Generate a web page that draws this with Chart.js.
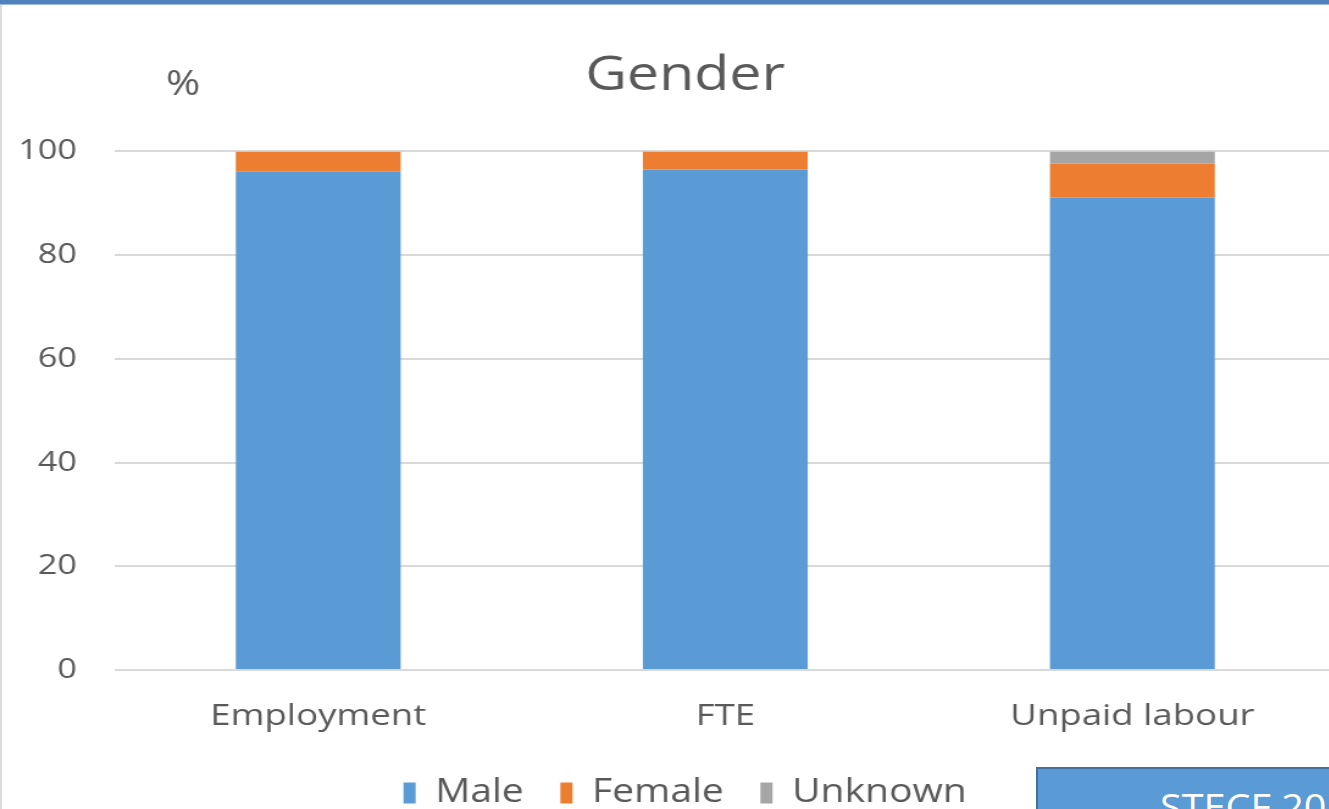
<!DOCTYPE html>
<html>
<head>
<meta charset="utf-8">
<script src="https://cdn.jsdelivr.net/npm/chart.js@4/dist/chart.umd.min.js"></script>
<style>
  html, body { margin: 0; padding: 0; background: #fff; }
  #frame { position: relative; width: 1329px; height: 809px; overflow: hidden; background: #fff; }
  #stretch { position: absolute; left: 0; top: 0; width: 1123px; height: 819px; transform: scaleX(1.22); transform-origin: 0 0; }
  #topbar { position: absolute; left: 0; top: 0; width: 1329px; height: 4px; background: #4f81bd; border-bottom: 1px solid #9dbbe0; }
  #leftbar { position: absolute; left: 0; top: 5px; width: 2px; height: 804px; background: #dcdcdc; }
  #note { position: absolute; left: 1036px; top: 767px; width: 400px; height: 80px; background: #5b9bd5; border: 2px solid #41719c; box-sizing: border-box; overflow: hidden; }
  #note span { position: absolute; left: 122px; top: 20px; font: 36px/1 "Open Sans", sans-serif; color: #fff; white-space: nowrap; transform: scaleX(1.1); transform-origin: 0 0; }
</style>
</head>
<body>
<div id="frame">
  <div id="stretch"><canvas id="chart" width="1123" height="819"></canvas></div>
  <div id="topbar"></div>
  <div id="leftbar"></div>
  <div id="note"><span>STECF 20</span></div>
</div>
<script>
// values, in %
const categories = ['Employment', 'FTE', 'Unpaid labour'];
const male = [96.1, 96.5, 91.1];
const female = [3.9, 3.5, 6.5];
const unknown = [0, 0, 2.4];

const textColor = '#595959';
const fontFamily = '"Open Sans", "Noto Sans", sans-serif';

// the "%" label sits above the value axis
const unitLabel = {
    id: 'unitLabel',
    afterDraw(chart) {
        let ctx = chart.ctx;
        ctx.save();
        ctx.fillStyle = textColor;
        ctx.font = '34px ' + fontFamily;
        ctx.textAlign = 'center';
        ctx.textBaseline = 'middle';
        ctx.fillText('%', 150, 85);
        ctx.restore();
    }
};

new Chart(document.getElementById('chart'), {
    type: 'bar',
    data: {
        labels: categories,
        datasets: [
            { label: 'Male', data: male, backgroundColor: '#5b9bd5' },
            { label: 'Female', data: female, backgroundColor: '#ed7d31' },
            { label: 'Unknown', data: unknown, backgroundColor: '#a5a5a5' }
        ]
    },
    options: {
        responsive: false,
        animation: false,
        devicePixelRatio: 1,
        layout: { padding: 0 },
        datasets: {
            bar: { categoryPercentage: 1, barPercentage: 0.405 }
        },
        plugins: {
            title: {
                display: true,
                text: 'Gender',
                color: textColor,
                font: { family: fontFamily, size: 47, weight: 'normal' },
                padding: { top: 48, bottom: 47 }
            },
            legend: {
                position: 'bottom',
                labels: {
                    color: textColor,
                    font: { family: fontFamily, size: 32 },
                    boxWidth: 10,
                    boxHeight: 21,
                    padding: 30
                }
            },
            tooltip: { enabled: false }
        },
        scales: {
            x: {
                stacked: true,
                grid: { display: false, drawTicks: false },
                border: { display: false },
                ticks: { color: textColor, font: { family: fontFamily, size: 30 }, padding: 28, maxRotation: 0 },
                afterFit(scale) { scale.height = 77; }
            },
            y: {
                stacked: true,
                min: 0,
                max: 100,
                ticks: { stepSize: 20, color: textColor, font: { family: fontFamily, size: 28 }, padding: 31 },
                grid: { color: '#d9d9d9', lineWidth: 2, drawTicks: false },
                border: { display: false },
                afterFit(scale) { scale.width = 94; }
            },
            yr: {
                position: 'right',
                display: true,
                grid: { display: false, drawTicks: false },
                border: { display: false },
                ticks: { display: false },
                afterFit(scale) { scale.width = 28; }
            }
        }
    },
    plugins: [unitLabel]
});
</script>
</body>
</html>
